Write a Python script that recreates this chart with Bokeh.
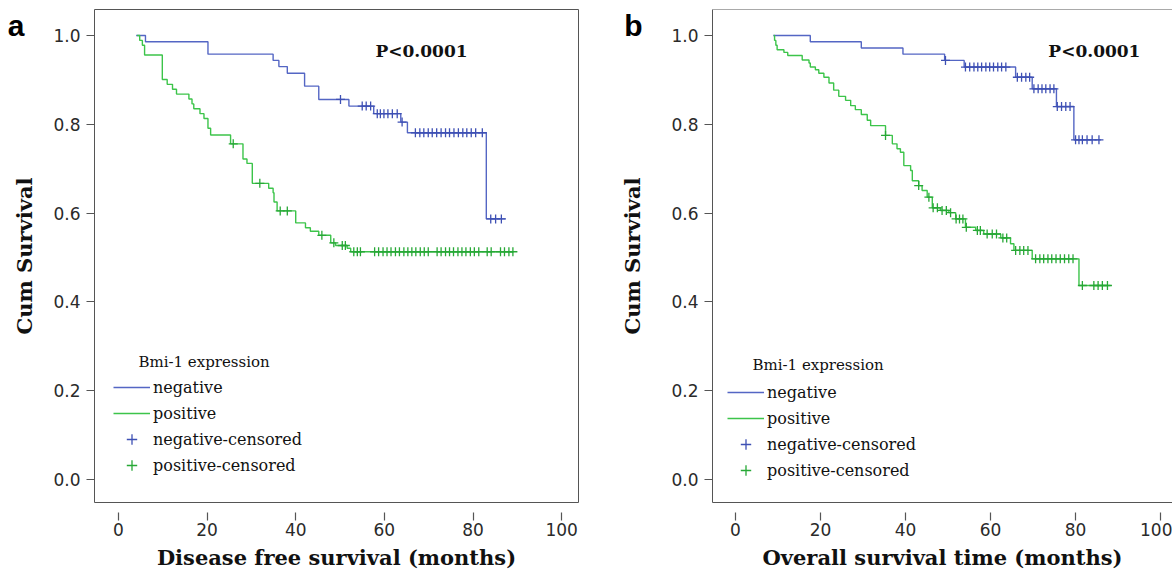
import numpy as np
from bokeh.plotting import figure
from bokeh.layouts import row
from bokeh.models import (FixedTicker, PrintfTickFormatter, Label, Legend,
                          LegendItem, Span, Range1d, LinearAxis, CustomJSTickFormatter)
from bokeh.embed import file_html
from bokeh.resources import INLINE

# ---------------- data ----------------
x_ticks = [0, 20, 40, 60, 80, 100]
y_ticks = [0.0, 0.2, 0.4, 0.6, 0.8, 1.0]
legend_title = "Bmi-1 expression"
legend_labels = ["negative", "positive", "negative-censored", "positive-censored"]
p_text = "P<0.0001"
y_title = "Cum Survival"

# Panel a: disease free survival
dfs_neg_start = 4.0
dfs_neg_times = [6.1, 20.2, 34.9, 36.2, 38.1, 42.0, 45.2, 52.0, 57.6, 63.7, 65.2, 83.0]
dfs_neg_surv = [0.986, 0.958, 0.944, 0.930, 0.915, 0.886, 0.856, 0.841, 0.824, 0.805, 0.781, 0.587]
dfs_neg_cens = [50.1, 55.0, 55.9, 56.9, 58.4, 59.1, 59.9, 60.8, 61.8, 62.9, 64.0,
                67.0, 68.0, 68.9, 69.9, 70.8, 71.8, 72.8, 73.8, 74.7, 75.7, 76.7,
                77.7, 78.6, 79.6, 80.6, 82.1, 84.0, 85.1, 86.4]
dfs_neg_end = 87.3

dfs_pos_start = 4.2
dfs_pos_times = [4.8, 5.4, 5.9, 9.9, 11.0, 12.2, 13.1, 15.9, 16.6, 17.0, 18.4, 19.3,
                 20.2, 20.8, 25.3, 28.1, 29.0, 30.2, 33.9, 34.9, 35.1, 35.8, 40.0,
                 42.2, 43.3, 45.2, 47.9, 49.0, 51.6, 52.4]
dfs_pos_surv = [0.989, 0.978, 0.956, 0.901, 0.890, 0.879, 0.868, 0.857, 0.846, 0.835,
                0.824, 0.813, 0.791, 0.776, 0.756, 0.722, 0.712, 0.667, 0.656, 0.646,
                0.625, 0.605, 0.578, 0.567, 0.559, 0.550, 0.533, 0.527, 0.521, 0.513]
dfs_pos_cens = [25.9, 31.9, 36.5, 38.1, 45.9, 48.6, 50.5, 51.2, 53.1, 53.9, 54.6,
                57.8, 58.7, 59.7, 60.6, 61.5, 62.5, 63.4, 64.4, 65.3, 66.2, 67.1,
                68.1, 69.0, 69.9, 71.9, 72.8, 73.8, 74.7, 75.6, 76.6, 77.5, 78.4,
                79.4, 80.3, 81.3, 83.2, 84.1, 86.2, 87.1, 88.1, 89.0]
dfs_pos_end = 89.0

# Panel b: overall survival
os_neg_start = 8.9
os_neg_times = [17.6, 29.6, 39.4, 49.2, 53.8, 65.9, 69.8, 75.5, 79.6]
os_neg_surv = [0.986, 0.972, 0.958, 0.944, 0.929, 0.906, 0.880, 0.840, 0.765]
os_neg_cens = [49.4, 54.1, 55.1, 56.1, 57.0, 57.9, 58.9, 59.8, 60.7, 61.7, 62.6, 63.6,
               66.3, 67.3, 68.3, 69.2, 70.2, 71.2, 72.1, 73.0, 74.0, 74.9, 75.7,
               76.7, 77.7, 78.7, 80.0, 80.8, 81.6, 82.7, 83.9, 85.5]
os_neg_end = 86.0

os_pos_start = 9.0
os_pos_times = [9.2, 9.5, 9.8, 11.4, 12.3, 15.7, 17.3, 17.6, 18.8, 19.6, 20.8, 22.0,
                23.1, 24.3, 25.9, 27.1, 28.2, 29.6, 31.0, 31.8, 35.3, 36.9, 38.0,
                38.8, 39.6, 41.2, 41.6, 43.1, 43.9, 45.1, 46.3, 48.2, 50.2, 51.8,
                54.1, 56.5, 58.4, 62.4, 64.7, 65.5, 69.8, 80.8]
os_pos_surv = [0.989, 0.978, 0.968, 0.962, 0.955, 0.945, 0.938, 0.929, 0.923, 0.915,
               0.906, 0.893, 0.877, 0.863, 0.854, 0.842, 0.833, 0.822, 0.809, 0.797,
               0.775, 0.756, 0.745, 0.737, 0.707, 0.696, 0.673, 0.662, 0.651, 0.636,
               0.612, 0.606, 0.601, 0.587, 0.568, 0.561, 0.553, 0.544, 0.531, 0.516,
               0.497, 0.437]
os_pos_cens = [35.3, 43.1, 45.5, 46.5, 47.5, 48.6, 49.6, 50.6, 51.9, 52.7, 53.5, 54.3,
               56.9, 57.6, 59.2, 60.4, 61.4, 62.9, 63.8, 65.9, 66.9, 67.8, 68.8, 70.6,
               71.6, 72.5, 73.5, 74.4, 75.4, 76.4, 77.4, 78.4, 79.4, 81.6, 84.3, 85.3,
               86.3, 87.5]
os_pos_end = 88.2

# ---------------- styling ----------------
BLUE = "#5466c4"
BLUE_C = "#3e50b4"
GREEN = "#3cc44a"
GREEN_C = "#27a836"
FRAME = "#555555"
SERIF = "DejaVu Serif"
Y0, Y1 = -0.0518, 1.0586


def km_path(start, times, surv, end):
    xs = [start] + list(times) + [end]
    ys = [1.0] + list(surv) + [surv[-1]]
    return xs, ys


def surv_at(times, surv, t):
    idx = np.searchsorted(np.asarray(times), np.asarray(t), side="right")
    levels = np.concatenate([[1.0], np.asarray(surv)])
    return levels[idx]


def panel(width, border_left, border_right, x_end, xlabel, letter, title_standoff,
          p_x, leg_loc, title_x, title_y, curves, boxed):
    p = figure(width=width, height=578, output_backend="svg", toolbar_location=None,
               x_range=Range1d(-5.4, x_end), y_range=Range1d(Y0, Y1),
               min_border_left=border_left, min_border_right=border_right,
               min_border_top=9, min_border_bottom=76)
    p.grid.visible = False
    p.background_fill_color = "white"
    p.border_fill_color = "white"
    if boxed:
        p.outline_line_color = FRAME
        p.outline_line_width = 1
        p.xaxis.axis_line_color = None
        p.yaxis.axis_line_color = None
    else:
        p.outline_line_color = None
        p.xaxis.axis_line_color = FRAME
        p.yaxis.axis_line_color = FRAME
        p.add_layout(Span(location=Y1, dimension="width", line_color=FRAME, line_width=1))

    p.xaxis.ticker = FixedTicker(ticks=x_ticks)
    p.yaxis.ticker = FixedTicker(ticks=y_ticks)
    p.yaxis.formatter = PrintfTickFormatter(format="%.1f")
    for ax in (p.xaxis, p.yaxis):
        ax.minor_tick_line_color = None
        ax.major_tick_line_color = FRAME
        ax.major_tick_line_width = 1.2
        ax.major_label_text_font = "DejaVu Sans"
        ax.major_label_text_font_size = "17px"
        ax.major_label_text_color = "#2a2a2a"
        ax.axis_label_text_font = SERIF
        ax.axis_label_text_font_style = "bold"
        ax.axis_label_text_font_size = "21px"
        ax.axis_label_text_color = "#111111"
    p.xaxis.major_tick_in = -10
    p.xaxis.major_tick_out = 18
    p.xaxis.major_label_standoff = 2
    p.xaxis.axis_label = xlabel
    p.xaxis.axis_label_standoff = 6
    p.yaxis.major_tick_in = 0
    p.yaxis.major_tick_out = 8
    p.yaxis.major_label_standoff = 6

    # outer left axis: carries the panel letter (as its only tick label) and the y title
    p.extra_y_ranges = {"lab": Range1d(Y0, Y1)}
    lab_ax = LinearAxis(y_range_name="lab", ticker=FixedTicker(ticks=[1.0236]),
                        formatter=CustomJSTickFormatter(code='return "%s"' % letter),
                        axis_line_color=None, major_tick_line_color=None,
                        minor_tick_line_color=None, major_tick_in=0, major_tick_out=0,
                        major_label_standoff=26,
                        major_label_text_font="Liberation Sans",
                        major_label_text_font_style="bold",
                        major_label_text_font_size="30px",
                        major_label_text_color="#000000",
                        axis_label=y_title, axis_label_standoff=title_standoff,
                        axis_label_text_font=SERIF, axis_label_text_font_style="bold",
                        axis_label_text_font_size="21px", axis_label_text_color="#111111")
    p.add_layout(lab_ax, "left")

    (n_start, n_t, n_s, n_c, n_end), (q_start, q_t, q_s, q_c, q_end) = curves
    nx, ny = km_path(n_start, n_t, n_s, n_end)
    qx, qy = km_path(q_start, q_t, q_s, q_end)
    r_neg = p.step(nx, ny, mode="after", line_color=BLUE, line_width=1.4)
    r_pos = p.step(qx, qy, mode="after", line_color=GREEN, line_width=1.4)
    r_negc = p.scatter(n_c, surv_at(n_t, n_s, n_c), marker="cross", size=9,
                       line_color=BLUE_C, line_width=1.3)
    r_posc = p.scatter(q_c, surv_at(q_t, q_s, q_c), marker="cross", size=9,
                       line_color=GREEN_C, line_width=1.3)

    items = [LegendItem(label=legend_labels[0], renderers=[r_neg]),
             LegendItem(label=legend_labels[1], renderers=[r_pos]),
             LegendItem(label=legend_labels[2], renderers=[r_negc]),
             LegendItem(label=legend_labels[3], renderers=[r_posc])]
    leg = Legend(items=items, location=leg_loc, padding=0, margin=0, spacing=0,
                 glyph_width=37, glyph_height=26, label_height=26, label_standoff=3,
                 label_text_font=SERIF, label_text_font_size="16px",
                 label_text_color="#111111",
                 background_fill_alpha=0, border_line_alpha=0)
    p.add_layout(leg)

    p.add_layout(Label(x=title_x, y=title_y, text=legend_title, text_font=SERIF,
                       text_font_size="15px", text_color="#111111",
                       text_baseline="alphabetic"))
    p.add_layout(Label(x=p_x, y=0.966, text=p_text, text_font=SERIF,
                       text_font_style="bold", text_font_size="17px",
                       text_color="#111111", text_baseline="alphabetic"))
    return p


p1 = panel(600, 94, 22, 103.8, "Disease free survival (months)", "a", -32,
           58.0, (19, 24), 4.5, 0.264,
           ((dfs_neg_start, dfs_neg_times, dfs_neg_surv, dfs_neg_cens, dfs_neg_end),
            (dfs_pos_start, dfs_pos_times, dfs_pos_surv, dfs_pos_cens, dfs_pos_end)),
           True)
p2 = panel(572, 112, 0, 102.8, "Overall survival time (months)", "b", -24,
           73.6, (15, 19), 4.0, 0.257,
           ((os_neg_start, os_neg_times, os_neg_surv, os_neg_cens, os_neg_end),
            (os_pos_start, os_pos_times, os_pos_surv, os_pos_cens, os_pos_end)),
           False)

layout = row(p1, p2)
open("out.html", "w").write(file_html(layout, INLINE))
